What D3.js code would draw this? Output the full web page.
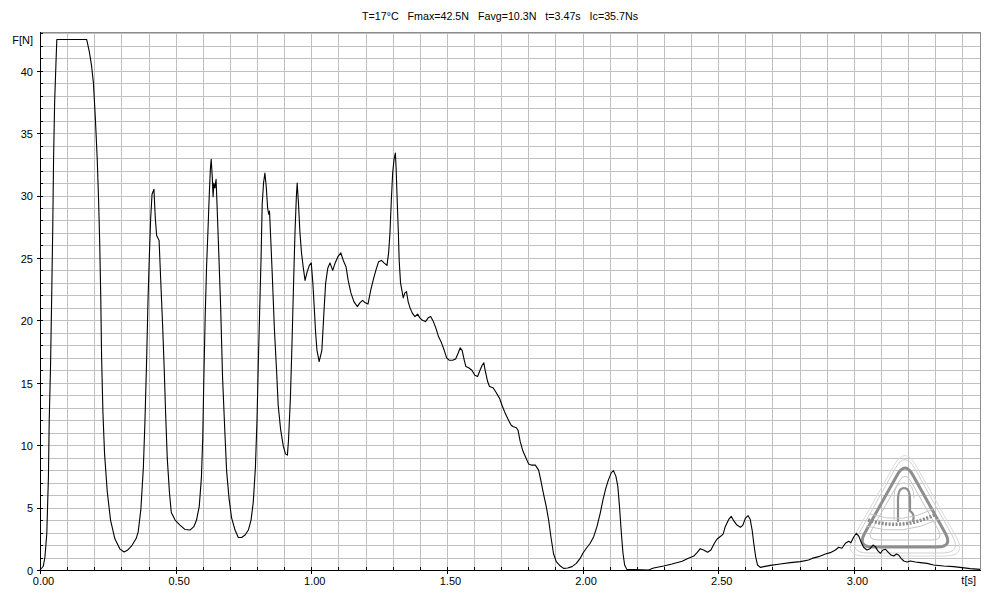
<!DOCTYPE html>
<html>
<head>
<meta charset="utf-8">
<script src="https://cdn.jsdelivr.net/npm/d3@7"></script>
<style>
  html, body { margin: 0; padding: 0; background: #fff; }
  svg { display: block; font-family: "Liberation Sans", Arial, sans-serif; }
</style>
</head>
<body>
<svg id="chart" width="1000" height="600"></svg>
<script>
// ---- data ----
const titleParts = ["T=17°C", "Fmax=42.5N", "Favg=10.3N", "t=3.47s", "Ic=35.7Ns"];
const yLabel = "F[N]";
const xLabel = "t[s]";
const xMajorTicks = [0, 0.5, 1.0, 1.5, 2.0, 2.5, 3.0];
const yMajorTicks = [0, 5, 10, 15, 20, 25, 30, 35, 40];

const time = [
0.000,0.012,0.018,0.025,0.031,0.034,0.039,0.043,0.047,0.050,0.054,0.059,0.062,0.172,0.182,0.190,0.197,0.204,0.211,0.216,
0.220,0.224,0.227,0.232,0.238,0.248,0.260,0.276,0.295,0.310,0.322,0.338,0.354,0.362,0.372,0.381,0.387,0.393,0.398,0.403,
0.408,0.413,0.420,0.425,0.430,0.439,0.445,0.452,0.458,0.463,0.469,0.477,0.484,0.498,0.516,0.534,0.553,0.568,0.577,0.587,
0.595,0.600,0.604,0.609,0.614,0.619,0.624,0.628,0.631,0.635,0.638,0.641,0.645,0.649,0.652,0.658,0.666,0.673,0.681,0.688,
0.697,0.706,0.719,0.731,0.743,0.756,0.768,0.778,0.786,0.794,0.800,0.805,0.810,0.815,0.819,0.824,0.829,0.834,0.839,0.843,
0.846,0.850,0.856,0.864,0.872,0.878,0.887,0.897,0.905,0.912,0.916,0.923,0.929,0.935,0.940,0.945,0.948,0.953,0.958,0.964,
0.970,0.977,0.985,0.993,1.000,1.006,1.011,1.016,1.021,1.029,1.039,1.047,1.053,1.061,1.069,1.079,1.088,1.098,1.109,1.118,
1.128,1.136,1.146,1.157,1.170,1.179,1.189,1.199,1.209,1.219,1.228,1.238,1.248,1.259,1.268,1.279,1.285,1.290,1.295,1.300,
1.305,1.310,1.313,1.317,1.321,1.324,1.329,1.334,1.339,1.345,1.351,1.357,1.364,1.372,1.382,1.392,1.400,1.410,1.421,1.431,
1.440,1.450,1.459,1.469,1.480,1.490,1.499,1.509,1.521,1.532,1.542,1.549,1.556,1.564,1.570,1.580,1.592,1.603,1.613,1.622,
1.630,1.636,1.641,1.650,1.657,1.670,1.682,1.694,1.703,1.715,1.727,1.737,1.743,1.756,1.762,1.770,1.779,1.789,1.801,1.813,
1.826,1.838,1.846,1.856,1.866,1.875,1.883,1.893,1.903,1.918,1.930,1.945,1.961,1.977,1.991,2.001,2.014,2.028,2.041,2.053,
2.065,2.075,2.085,2.095,2.106,2.114,2.123,2.130,2.136,2.143,2.149,2.155,2.163,2.243,2.262,2.299,2.330,2.367,2.388,2.410,
2.422,2.434,2.446,2.461,2.473,2.486,2.496,2.510,2.518,2.526,2.539,2.548,2.557,2.569,2.582,2.591,2.600,2.610,2.618,2.625,
2.631,2.638,2.645,2.655,2.668,2.692,2.729,2.766,2.803,2.833,2.846,2.870,2.895,2.913,2.932,2.944,2.956,2.969,2.981,2.989,
2.999,3.009,3.018,3.026,3.036,3.048,3.058,3.071,3.079,3.088,3.098,3.107,3.117,3.128,3.137,3.147,3.157,3.165,3.174,3.184,
3.196,3.208,3.227,3.245,3.270,3.294,3.331,3.368,3.399,3.429,3.465
];
const force = [
0,0.3,1.0,2.9,7.4,12.0,16.5,21.8,27.4,32.9,37.5,40.7,42.5,42.5,41.5,40.4,39.0,36.2,32.9,29.6,
26.3,21.8,17.1,12.6,9.3,6.25,4.0,2.5,1.67,1.44,1.58,1.94,2.5,3.05,4.9,8.2,12.0,16.8,21.5,25.1,
28.2,30.1,30.5,28.2,26.8,26.4,23.2,19.6,16.0,12.6,9.0,6.25,4.6,4.0,3.6,3.25,3.2,3.5,4.0,5.1,
7.4,10.7,15.4,20.4,24.3,27.1,30.1,32.1,32.9,31.5,29.9,31.0,30.6,31.3,29.6,26.0,21.0,15.4,11.25,7.9,
5.7,4.2,3.2,2.6,2.6,2.8,3.2,4.0,5.4,8.2,12.1,16.8,21.0,25.1,29.3,31.0,31.8,30.7,29.0,28.5,
28.75,26.8,23.75,19.3,16.0,13.2,11.25,9.9,9.3,9.2,10.4,13.75,18.2,23.2,27.1,29.9,31.0,29.3,27.1,25.4,
24.3,23.2,23.9,24.4,24.6,22.9,21.0,19.0,17.6,16.7,17.6,20.8,23.0,24.2,24.6,24.0,24.6,25.1,25.4,24.8,
24.3,23.2,22.2,21.5,21.1,21.4,21.6,21.4,21.3,22.4,23.2,24.0,24.7,24.8,24.6,24.4,25.4,27.0,29.6,31.8,
32.9,33.4,32.0,29.4,27.0,24.8,23.0,22.4,21.8,22.2,22.3,21.5,21.0,20.6,20.3,20.5,20.2,20.0,19.9,20.2,
20.3,19.9,19.4,18.7,18.2,17.6,17.0,16.8,16.8,16.9,17.4,17.8,17.6,16.8,16.3,16.2,16.0,15.6,15.5,16.0,
16.4,16.6,16.0,15.1,14.7,14.6,14.2,13.75,13.2,12.55,12.0,11.6,11.5,11.4,11.2,10.3,9.6,9.1,8.5,8.4,
8.4,8.0,7.2,6.1,5.1,4.0,2.7,1.3,0.67,0.32,0.13,0.16,0.27,0.53,0.93,1.34,1.74,2.14,2.67,3.47,
4.54,5.6,6.5,7.2,7.8,7.96,7.5,6.7,5.1,2.94,1.34,0.4,0.05,0.0,0.16,0.32,0.48,0.7,0.93,1.12,
1.39,1.71,1.6,1.42,1.6,2.14,2.48,2.72,2.88,3.47,4.06,4.3,3.95,3.6,3.42,3.6,4.14,4.35,4.06,3.2,
2.14,1.07,0.4,0.21,0.27,0.37,0.48,0.59,0.67,0.8,0.93,1.07,1.28,1.39,1.6,1.82,1.74,2.14,2.3,2.19,
2.62,2.94,2.72,2.27,1.82,1.6,1.68,2.0,1.87,1.55,1.34,1.6,1.66,1.39,1.2,1.12,1.28,1.2,0.93,0.72,
0.64,0.72,0.64,0.59,0.53,0.4,0.32,0.27,0.19,0.11,0.05
];

// ---- layout ----
const svg = d3.select("#chart");
const x = d3.scaleLinear().domain([0, 3.465]).range([40, 980]);
const y = d3.scaleLinear().domain([0, 43.1]).range([570, 32]);
const gridColor = "#c0c0c0";

// grid
const gGrid = svg.append("g").attr("shape-rendering", "crispEdges");
gGrid.selectAll("line.v").data(d3.range(1, 35).map(i => i / 10)).join("line")
  .attr("x1", d => Math.round(x(d)) + 0.5).attr("x2", d => Math.round(x(d)) + 0.5)
  .attr("y1", y.range()[1]).attr("y2", y.range()[0])
  .attr("stroke", gridColor).attr("stroke-width", 1);
gGrid.selectAll("line.h").data(d3.range(1, 44)).join("line")
  .attr("x1", x.range()[0]).attr("x2", x.range()[1])
  .attr("y1", d => Math.round(y(d)) + 0.5).attr("y2", d => Math.round(y(d)) + 0.5)
  .attr("stroke", gridColor).attr("stroke-width", 1);

// top & right border
svg.append("path")
  .attr("d", `M${x.range()[0]},${y.range()[1] + 0.5}H${x.range()[1] + 0.5}V${y.range()[0]}`)
  .attr("fill", "none").attr("stroke", "#8c8c8c").attr("shape-rendering", "crispEdges");

// watermark (rounded triangle logo)
function roundedTri(cx, top, bottom, halfW, r) {
  const pts = [[cx, top], [cx + halfW, bottom], [cx - halfW, bottom]];
  let d = "";
  for (let i = 0; i < 3; i++) {
    const p0 = pts[(i + 2) % 3], p1 = pts[i], p2 = pts[(i + 1) % 3];
    const v1 = [p0[0] - p1[0], p0[1] - p1[1]], v2 = [p2[0] - p1[0], p2[1] - p1[1]];
    const l1 = Math.hypot(...v1), l2 = Math.hypot(...v2);
    const a = [p1[0] + v1[0] / l1 * r, p1[1] + v1[1] / l1 * r];
    const b = [p1[0] + v2[0] / l2 * r, p1[1] + v2[1] / l2 * r];
    d += (i === 0 ? "M" : "L") + a[0] + "," + a[1] + "Q" + p1[0] + "," + p1[1] + " " + b[0] + "," + b[1];
  }
  return d + "Z";
}
const wm = svg.append("g").attr("fill", "none");
wm.append("path").attr("d", roundedTri(905, 446, 556, 62, 22)).attr("stroke", "#dadada").attr("stroke-width", 1);
wm.append("path").attr("d", roundedTri(905, 451, 553, 57, 20)).attr("stroke", "#cfcfcf").attr("stroke-width", 1);
wm.append("path").attr("d", roundedTri(905, 461, 547, 48, 16)).attr("stroke", "#8e8e8e").attr("stroke-width", 3);
wm.append("path").attr("d", roundedTri(905, 471, 540, 39, 12)).attr("stroke", "#c4c4c4").attr("stroke-width", 1);
// inner figure
wm.append("path")
  .attr("d", "M898,521 L898,500 Q898,488 904,488 Q910,488 910,500 L910,511 Q915,514 913,521")
  .attr("stroke", "#8e8e8e").attr("stroke-width", 2.2).attr("stroke-linecap", "round");
wm.append("path")
  .attr("d", "M894,521 L894,498 Q894,483 904,483 Q914,483 914,498")
  .attr("stroke", "#c8c8c8").attr("stroke-width", 1);
// text band
wm.append("path").attr("d", "M868,520 Q903,531 936,514")
  .attr("stroke", "#8e8e8e").attr("stroke-width", 3.5).attr("stroke-dasharray", "2,1.5");
wm.append("path").attr("d", "M866,526 Q903,537 939,519").attr("stroke", "#c8c8c8").attr("stroke-width", 1);
wm.append("path").attr("d", "M870,514 Q903,525 933,509").attr("stroke", "#c8c8c8").attr("stroke-width", 1);

// data line
const line = d3.line().x((d, i) => x(time[i])).y(d => y(d));
svg.append("path").datum(force)
  .attr("d", line)
  .attr("fill", "none").attr("stroke", "#000").attr("stroke-width", 1.1)
  .attr("stroke-linejoin", "round");

// axes
const fontSize = "11px";
const gY = svg.append("g").attr("transform", `translate(${x.range()[0]},0)`);
gY.call(d3.axisLeft(y).tickValues(d3.range(0, 44)).tickSize(-3).tickFormat(""));
gY.append("g").call(d3.axisLeft(y).tickValues(yMajorTicks).tickSize(3).tickPadding(4).tickFormat(d3.format("d")));
gY.selectAll(".domain").remove();
gY.selectAll("line").attr("stroke", "#000").attr("shape-rendering", "crispEdges");
gY.selectAll("text").attr("fill", "#000").style("font-size", fontSize).attr("dy", "0.4em");

const gX = svg.append("g").attr("transform", `translate(0,${y.range()[0]})`);
gX.call(d3.axisBottom(x).tickValues(d3.range(0, 35).map(i => i / 10)).tickSize(-3).tickFormat(""));
gX.append("g").call(d3.axisBottom(x).tickValues(xMajorTicks).tickSize(4).tickPadding(3).tickFormat(d3.format(".2f")));
gX.selectAll(".domain").remove();
gX.selectAll("line").attr("stroke", "#000").attr("shape-rendering", "crispEdges");
gX.selectAll("text").attr("fill", "#000").style("font-size", fontSize).attr("dx", "3");

// axis lines
svg.append("path")
  .attr("d", `M${x.range()[0] + 0.5},${y.range()[1]}V${y.range()[0] + 0.5}H${x.range()[1] + 0.5}`)
  .attr("fill", "none").attr("stroke", "#000").attr("shape-rendering", "crispEdges");

// axis names
svg.append("text").attr("x", 33).attr("y", 44).attr("text-anchor", "end")
  .style("font-size", fontSize).text(yLabel);
svg.append("text").attr("x", 976).attr("y", 584).attr("text-anchor", "end")
  .style("font-size", fontSize).text(xLabel);

// title (one line, spread over the same width as in the reference)
svg.append("text")
  .attr("x", 362).attr("y", 20)
  .attr("textLength", 276).attr("lengthAdjust", "spacingAndGlyphs")
  .style("font-size", fontSize).style("white-space", "pre")
  .text(titleParts.join("   "));
</script>
</body>
</html>
